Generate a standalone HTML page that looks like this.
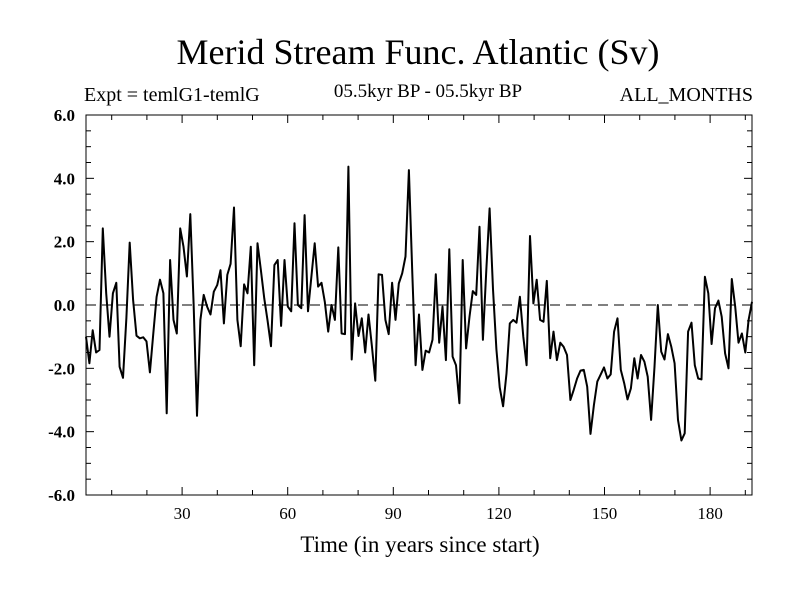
<!DOCTYPE html>
<html><head><meta charset="utf-8"><style>body{margin:0;background:#fff}svg{display:block}</style></head>
<body>
<svg id="chart" width="800" height="600" xmlns="http://www.w3.org/2000/svg" font-family="Liberation Serif, serif">
<text x="418" y="64" font-size="36" text-anchor="middle">Merid Stream Func. Atlantic (Sv)</text>
<text x="84" y="101" font-size="20">Expt = temlG1-temlG</text>
<text x="428" y="97" font-size="19" text-anchor="middle">05.5kyr BP - 05.5kyr BP</text>
<text x="753" y="101" font-size="20" text-anchor="end">ALL_MONTHS</text>
<text x="420" y="552" font-size="23" text-anchor="middle">Time (in years since start)</text>
<g id="axes"></g>
<line x1="86" y1="305" x2="752" y2="305" stroke="#000" stroke-dasharray="10,6" stroke-width="1"/>
<path id="series" fill="none" stroke="#000" stroke-width="2" stroke-linejoin="round"/>
<rect x="86" y="115" width="666" height="380" fill="none" stroke="#000" stroke-width="1"/>
</svg>
<script>
const values = [-1.0,-1.84,-0.8,-1.5,-1.42,2.42,0.37,-1.0,0.37,0.7,-1.95,-2.3,-0.4,1.97,0.16,-0.97,-1.05,-1.02,-1.15,-2.13,-0.9,0.26,0.8,0.37,-3.42,1.42,-0.47,-0.9,2.42,1.84,0.9,2.87,0.05,-3.5,-0.47,0.32,-0.05,-0.3,0.42,0.63,1.1,-0.58,0.95,1.3,3.08,-0.47,-1.3,0.65,0.37,1.84,-1.9,
1.95,1.1,0.2,-0.5,-1.3,1.26,1.42,-0.66,1.42,-0.05,-0.2,2.58,0,-0.1,2.84,-0.2,0.9,1.95,0.58,0.7,0.1,-0.84,0,-0.47,1.82,-0.9,-0.92,4.37,-1.72,0.05,-0.98,-0.42,-1.5,-0.3,-1.3,-2.39,0.97,0.95,-0.47,-0.92,0.7,-0.47,0.68,1.0,1.53,4.26,1.0,-1.9,
-0.3,-2.05,-1.44,-1.5,-1.1,0.97,-1.19,-0.05,-1.74,1.76,-1.63,-1.9,-3.1,1.42,-1.37,-0.37,0.44,0.32,2.47,-1.1,1.1,3.05,0.5,-1.4,-2.6,-3.2,-2.16,-0.58,-0.47,-0.56,0.26,-1.0,-1.9,2.18,0.05,0.8,-0.47,-0.53,0.76,-1.68,-0.84,-1.74,-1.19,-1.32,-1.58,-3.0,-2.68,-2.32,-2.07,
-2.05,-2.58,-4.07,-3.16,-2.42,-2.2,-1.97,-2.32,-2.19,-0.84,-0.42,-2.05,-2.47,-2.98,-2.63,-1.68,-2.32,-1.58,-1.79,-2.26,-3.63,-1.95,0,-1.47,-1.72,-0.92,-1.32,-1.84,-3.63,-4.28,-4.05,-0.84,-0.56,-1.9,-2.32,-2.35,0.89,0.37,-1.23,-0.1,0.14,-0.37,-1.53,-2.0,0.82,-0.05,-1.19,-0.9,-1.5,-0.47,0.1];
const xTicks = [30,60,90,120,150,180];
const xMinorTicks = [10,20,40,50,70,80,100,110,130,140,160,170,190];
const yTicks = [-6,-4,-2,0,2,4,6];
const yTickLabels = ["-6.0","-4.0","-2.0","0.0","2.0","4.0","6.0"];
const yMinorTicks = [-5.5,-5,-4.5,-3.5,-3,-2.5,-1.5,-1,-0.5,0.5,1,1.5,2.5,3,3.5,4.5,5,5.5];
const tStart = 2.7, tEnd = 191.9;

const X0=86,X1=752,Y0=495,Y1=115;
const xs = t => X0 + (t - tStart)/(tEnd - tStart)*(X1-X0);
const ys = v => Y0 - (v + 6)/12*(Y0-Y1);
const NS="http://www.w3.org/2000/svg";
const axes=document.getElementById('axes');
function ln(x1,y1,x2,y2,name){const l=document.createElementNS(NS,'line');
l.setAttribute('x1',x1);l.setAttribute('y1',y1);l.setAttribute('x2',x2);l.setAttribute('y2',y2);
l.setAttribute('stroke','#000');l.setAttribute('stroke-width','1');


axes.appendChild(l);}
function tx(x,y,s,anchor,name,bold){const t=document.createElementNS(NS,'text');
t.setAttribute('x',x);t.setAttribute('y',y);t.setAttribute('font-size','17');t.setAttribute('text-anchor',anchor);
if(bold)t.setAttribute('font-weight','bold');t.textContent=s;


axes.appendChild(t);}
xTicks.forEach(t=>{const x=xs(t);ln(x,Y0,x,Y0-8,'x-tick');ln(x,Y1,x,Y1+8,'x-tick-top');tx(x,Y0+24,String(t),'middle','x-tick-label',false);});
xMinorTicks.forEach(t=>{const x=xs(t);ln(x,Y0,x,Y0-5,'x-minor-tick');ln(x,Y1,x,Y1+5,'x-minor-tick-top');});
yTicks.forEach((v,i)=>{const y=ys(v);ln(X0,y,X0+8,y,'y-tick');ln(X1,y,X1-8,y,'y-tick-right');tx(X0-11,y+6,yTickLabels[i],'end','y-tick-label',true);});
yMinorTicks.forEach(v=>{const y=ys(v);ln(X0,y,X0+5,y,'y-minor-tick');ln(X1,y,X1-5,y,'y-minor-tick-right');});
const step=(tEnd-tStart)/(values.length-1);
document.getElementById('series').setAttribute('d',values.map((v,i)=>(i?'L':'M')+xs(tStart+i*step).toFixed(1)+','+ys(v).toFixed(1)).join(''));
</script>
</body></html>
